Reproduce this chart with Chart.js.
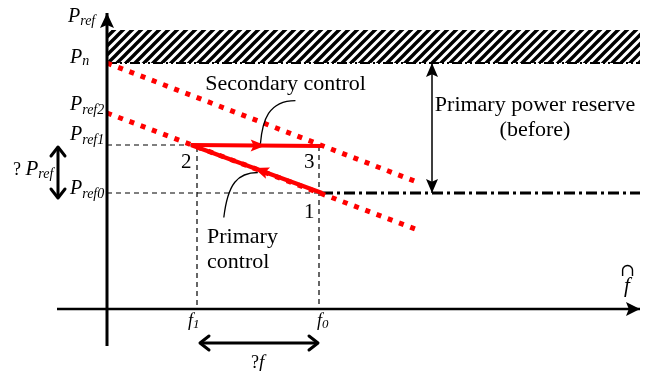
<!DOCTYPE html>
<html><head><meta charset="utf-8">
<script src="https://cdn.jsdelivr.net/npm/chart.js@4/dist/chart.umd.min.js"></script>
<style>html,body{margin:0;padding:0;background:#fff;}#wrap{width:648px;height:371px;position:relative;}</style>
</head><body><div id="wrap"><canvas id="c" width="648" height="371"></canvas></div>
<script>
// ---- data (diagram units: f to the right of the P axis, P above the f axis) ----
const powerLevelNames = ['Pn', 'Pref2', 'Pref1', 'Pref0'];
const powerLevels = [246, 196, 164, 116];
const hatchTop = 279;
const freqNames = ['f1', 'f0'];
const freqValues = [90, 212];
const pointNames = ['1', '2', '3'];
const pointF = [215, 84, 215];
const pointP = [116, 164, 163];
const droopUpperF = [0, 310];
const droopUpperP = [246, 127];
const droopLowerF = [0, 311];
const droopLowerP = [196, 79];
const axisFRange = [-50, 533];
const axisPRange = [-37, 296];
const deltaPArrow = [162, 111];
const deltaFArrow = [93, 211];
const reserveF = 325;

const [Pn, Pref2, Pref1, Pref0] = powerLevels;
const [f1, f0] = freqValues;
const P1 = {x: pointF[0], y: pointP[0]}, P2 = {x: pointF[1], y: pointP[1]}, P3 = {x: pointF[2], y: pointP[2]};
const pts = (fs, ps) => fs.map((f, i) => ({x: f, y: ps[i]}));

function hatchPattern() {
  const s = 9, c = document.createElement('canvas'); c.width = s; c.height = s;
  const g = c.getContext('2d'); g.strokeStyle = '#000'; g.lineWidth = 3.4; g.lineCap = 'square';
  g.beginPath();
  g.moveTo(0, s); g.lineTo(s, 0);
  g.moveTo(-s / 4, s / 4); g.lineTo(s / 4, -s / 4);
  g.moveTo(s * 3 / 4, s * 5 / 4); g.lineTo(s * 5 / 4, s * 3 / 4);
  g.stroke();
  return g.createPattern(c, 'repeat');
}

const base = {showLine: true, pointRadius: 0, pointHoverRadius: 0, fill: false, tension: 0, borderCapStyle: 'butt'};
const BLK = '#000', RED = '#ff0000';
const datasets = [
  // axes
  {...base, data: [{x: axisFRange[0], y: 0}, {x: axisFRange[1], y: 0}], borderColor: BLK, borderWidth: 2.5, heads: [{at: 1, type: 'filled', len: 14, w: 7}]},
  {...base, data: [{x: 0, y: axisPRange[0]}, {x: 0, y: axisPRange[1]}], borderColor: BLK, borderWidth: 3, heads: [{at: 1, type: 'filled', len: 15, w: 7}]},
  // control trajectories
  {...base, data: [P2, P3], borderColor: RED, borderWidth: 4, heads: [{at: 0.57, type: 'filled', len: 15, w: 6, color: RED}], leader: 'secondary'},
  {...base, data: [P1, P2], borderColor: RED, borderWidth: 4.5, heads: [{at: 0.52, type: 'filled', len: 15, w: 6, color: RED}], leader: 'primary'},
  // droop characteristics
  {...base, data: pts(droopUpperF, droopUpperP), borderColor: RED, borderWidth: 5, borderDash: [5, 7]},
  {...base, data: pts(droopLowerF, droopLowerP), borderColor: RED, borderWidth: 5, borderDash: [5, 7]},
  // arrows
  {...base, data: [{x: reserveF, y: Pn}, {x: reserveF, y: Pref0}], borderColor: BLK, borderWidth: 1.5, heads: [{at: 0, type: 'filled', len: 14, w: 6}, {at: 1, type: 'filled', len: 14, w: 6}]},
  {...base, data: [{x: -49, y: deltaPArrow[0]}, {x: -49, y: deltaPArrow[1]}], borderColor: BLK, borderWidth: 3, heads: [{at: 0, type: 'open', len: 9, w: 7}, {at: 1, type: 'open', len: 9, w: 7}]},
  {...base, data: [{x: deltaFArrow[0], y: -34}, {x: deltaFArrow[1], y: -34}], borderColor: BLK, borderWidth: 3, heads: [{at: 0, type: 'open', len: 9, w: 7}, {at: 1, type: 'open', len: 9, w: 7}]},
  // dashed guides
  {...base, data: [{x: 0, y: Pref1}, {x: P2.x, y: Pref1}], borderColor: BLK, borderWidth: 1.2, borderDash: [5, 4]},
  {...base, data: [{x: f1, y: Pref1 - 2}, {x: f1, y: 0}], borderColor: BLK, borderWidth: 1.2, borderDash: [5, 4]},
  {...base, data: [{x: 0, y: Pref0}, {x: P1.x, y: Pref0}], borderColor: BLK, borderWidth: 1.2, borderDash: [5, 4]},
  {...base, data: [{x: f0, y: P3.y}, {x: f0, y: 0}], borderColor: BLK, borderWidth: 1.2, borderDash: [5, 4]},
  // dash-dot levels
  {...base, data: [{x: 0, y: Pn}, {x: axisFRange[1], y: Pn}], borderColor: BLK, borderWidth: 2, borderDash: [10, 3, 2, 3, 2, 3]},
  {...base, data: [{x: P1.x, y: Pref0}, {x: axisFRange[1], y: Pref0}], borderColor: BLK, borderWidth: 3, borderDash: [11, 4, 3, 4]},
  // hatched band above Pn
  {...base, data: [{x: 1, y: hatchTop}, {x: axisFRange[1], y: hatchTop}], borderColor: 'rgba(0,0,0,0)', borderWidth: 1, fill: {value: Pn}, backgroundColor: hatchPattern()},
];

const SERIF = '"Liberation Serif", "Times New Roman", serif';
const I = s => `italic ${s}px ${SERIF}`;
const R = s => `${s}px ${SERIF}`;

// labels: anchor in data units + pixel offset, rich parts [text, font, dy]
const labels = [
  {ax: 0, ay: axisPRange[1], dx: -39, dy: 9, parts: [['P', I(20), 0], ['ref', I(14), 3]]},
  {ax: 0, ay: Pn, dx: -37, dy: 0, parts: [['P', I(20), 0], ['n', I(14), 2]]},
  {ax: 0, ay: Pref2, dx: -37, dy: -3, parts: [['P', I(20), 0], ['ref2', I(14), 4]]},
  {ax: 0, ay: Pref1, dx: -37, dy: -5, parts: [['P', I(20), 0], ['ref1', I(14), 4]]},
  {ax: 0, ay: Pref0, dx: -37, dy: 1, parts: [['P', I(20), 0], ['ref0', I(14), 4]]},
  {ax: 0, ay: (Pref1 + Pref0) / 2, dx: -94, dy: 6, parts: [['? ', R(18), 0], ['P', I(21), 0], ['ref', I(14), 3]]},
  {ax: f1, ay: 0, dx: -9, dy: 17, parts: [['f', I(18), 0], ['1', I(13), 2]]},
  {ax: f0, ay: 0, dx: -2, dy: 17, parts: [['f', I(18), 0], ['0', I(13), 2]]},
  {ax: (f1 + f0) / 2, ay: -34, dx: -7, dy: 25, parts: [['?', R(18), 0], ['f', I(19), 0]]},
  {ax: axisFRange[1], ay: 0, dx: -20, dy: -33, parts: [['\u2229', '18px "DejaVu Serif", serif', 0]]},
  {ax: axisFRange[1], ay: 0, dx: -16, dy: -17, parts: [['f', I(21), 0]]},
  {ax: P2.x, ay: P2.y, dx: -10, dy: 23, parts: [['2', R(21), 0]]},
  {ax: P3.x, ay: P3.y, dx: -18, dy: 22, parts: [['3', R(21), 0]]},
  {ax: P1.x, ay: P1.y, dx: -18, dy: 25, parts: [['1', R(21), 0]]},
  {ax: (P2.x + P3.x) / 2, ay: P3.y, dx: 29, dy: -56, align: 'center', parts: [['Secondary control', R(22), 0]]},
  {ax: reserveF, ay: (Pn + Pref0) / 2, dx: 103, dy: -17, align: 'center', parts: [['Primary power reserve', R(22), 0]]},
  {ax: reserveF, ay: (Pn + Pref0) / 2, dx: 103, dy: 8, align: 'center', parts: [['(before)', R(22), 0]]},
  {ax: f1, ay: 0, dx: 10, dy: -66, parts: [['Primary', R(22), 0]]},
  {ax: f1, ay: 0, dx: 10, dy: -41, parts: [['control', R(22), 0]]},
];

function head(g, tx, ty, ang, h, color, lw) {
  const bx = tx - Math.cos(ang) * h.len, by = ty - Math.sin(ang) * h.len;
  const nx = -Math.sin(ang) * h.w, ny = Math.cos(ang) * h.w;
  g.save();
  if (h.type === 'filled') {
    g.fillStyle = color;
    g.beginPath(); g.moveTo(tx, ty); g.lineTo(bx + nx, by + ny);
    g.lineTo(bx + Math.cos(ang) * h.len * 0.2, by + Math.sin(ang) * h.len * 0.2);
    g.lineTo(bx - nx, by - ny); g.closePath(); g.fill();
  } else {
    g.strokeStyle = color; g.lineWidth = lw; g.lineCap = 'round'; g.lineJoin = 'round';
    g.beginPath(); g.moveTo(bx + nx, by + ny); g.lineTo(tx, ty); g.lineTo(bx - nx, by - ny); g.stroke();
  }
  g.restore();
}

const decor = {
  id: 'decor',
  afterDatasetsDraw(chart) {
    const g = chart.ctx, xs = chart.scales.x, ys = chart.scales.y;
    chart.data.datasets.forEach((ds, i) => {
      const els = chart.getDatasetMeta(i).data;
      if (els.length < 2) return;
      const a = els[0], b = els[els.length - 1];
      const ang = Math.atan2(b.y - a.y, b.x - a.x);
      (ds.heads || []).forEach(h => {
        const color = h.color || ds.borderColor;
        if (h.at === 0) head(g, a.x, a.y, ang + Math.PI, h, color, ds.borderWidth);
        else {
          const tx = a.x + (b.x - a.x) * h.at, ty = a.y + (b.y - a.y) * h.at;
          head(g, tx, ty, ang, h, color, ds.borderWidth);
        }
      });
      if (ds.leader) {
        g.save(); g.strokeStyle = BLK; g.lineWidth = 1.3; g.beginPath();
        if (ds.leader === 'secondary') {
          const t = 0.53, x = a.x + (b.x - a.x) * t, y = a.y + (b.y - a.y) * t;
          g.moveTo(x + 35, y - 45); g.bezierCurveTo(x + 8, y - 45, x + 2, y - 25, x, y - 2);
        } else {
          const t = 0.49, x = a.x + (b.x - a.x) * t, y = a.y + (b.y - a.y) * t;
          g.moveTo(x, y + 3); g.bezierCurveTo(x - 20, y + 3, x - 30, y + 14, x - 34, y + 48);
        }
        g.stroke(); g.restore();
      }
    });
    g.save(); g.fillStyle = BLK; g.textBaseline = 'alphabetic';
    labels.forEach(L => {
      let x = xs.getPixelForValue(L.ax) + L.dx, y = ys.getPixelForValue(L.ay) + L.dy;
      if (L.align === 'center') {
        let w = 0; L.parts.forEach(p => { g.font = p[1]; w += g.measureText(p[0]).width; });
        x -= w / 2;
      }
      L.parts.forEach(p => { g.font = p[1]; g.textAlign = 'left'; g.fillText(p[0], x, y + p[2]); x += g.measureText(p[0]).width; });
    });
    g.restore();
  }
};

new Chart(document.getElementById('c'), {
  type: 'scatter',
  data: {datasets},
  options: {
    responsive: false, animation: false, devicePixelRatio: 1,
    layout: {padding: 0},
    plugins: {legend: {display: false}, tooltip: {enabled: false}},
    events: [],
    scales: {
      x: {type: 'linear', min: -107, max: 541, display: false},
      y: {type: 'linear', min: -62, max: 309, display: false}
    }
  },
  plugins: [decor]
});
</script></body></html>
